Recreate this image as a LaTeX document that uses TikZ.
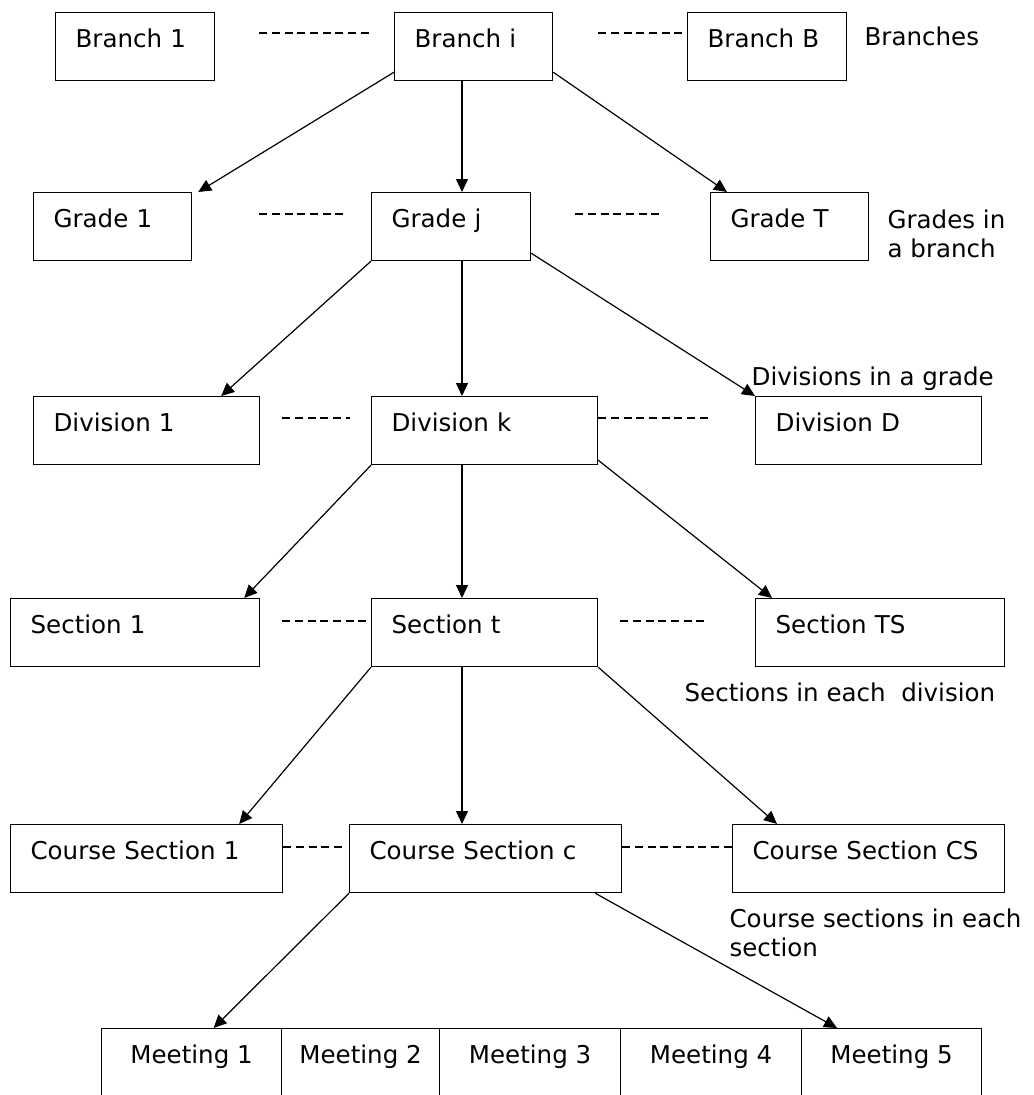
\documentclass[tikz,border=0pt]{standalone}
\usepackage{fontspec}
\setmainfont{DejaVu Sans}
\usetikzlibrary{arrows.meta}
\tikzset{>={Triangle[length=9.75pt,width=9pt]}}

\begin{document}
\begin{tikzpicture}[x=0.75pt, y=-0.75pt, line width=0.9pt, font=\fontsize{18.4}{21.75}\selectfont,
		box/.style={draw, rectangle, anchor=north west, align=left, inner xsep=15pt, inner ysep=0pt, text width=#1, text height=26.25pt, text depth=24.75pt},
		meet/.style={draw, rectangle, anchor=north west, align=center, inner sep=0pt, minimum width=#1, text height=26.25pt, text depth=24pt},
		gap/.style={dash pattern=on 6pt off 3.5pt},
		note/.style={anchor=base west, align=left, inner sep=0pt}]
		\useasboundingbox (0,0) rectangle (1034,1095);
		
		% branches
		\node [box=89.25pt] (b1) at (55,12) {Branch 1};
		\node [box=88.5pt] (bi) at (394,12) {Branch i};
		\node [box=89.25pt] (bB) at (687,12) {Branch B};
		% grades
		\node [box=88.5pt] (g1) at (33,192) {Grade 1};
		\node [box=89.25pt] (gj) at (371,192) {Grade j};
		\node [box=88.5pt] (gT) at (710,192) {Grade T};
		% divisions
		\node [box=139.5pt] (d1) at (33,396) {Division 1};
		\node [box=139.5pt] (dk) at (371,396) {Division k};
		\node [box=139.5pt] (dD) at (755,396) {Division D};
		% sections
		\node [box=156.75pt] (s1) at (10,598) {Section 1};
		\node [box=139.5pt] (st) at (371,598) {Section t};
		\node [box=156.75pt] (sTS) at (755,598) {Section TS};
		% course sections
		\node [box=174pt] (c1) at (10,824) {Course Section 1};
		\node [box=174pt] (cc) at (349,824) {Course Section c};
		\node [box=174pt] (cCS) at (732,824) {Course Section CS};
		% meetings
		\node [meet=135pt] (m1) at (101,1028) {Meeting 1};
		\node [meet=118.5pt] (m2) at (281,1028) {Meeting 2};
		\node [meet=135.75pt] (m3) at (439,1028) {Meeting 3};
		\node [meet=135.75pt] (m4) at (620,1028) {Meeting 4};
		\node [meet=135pt] (m5) at (801,1028) {Meeting 5};
		
		% notes
		\node [note] (nB) at (864,46) {Branches};
		\node [note] (nG) at (887,257) {Grades in\\a branch};
		\node [note] (nD) at (751,385) {Divisions in a grade};
		\node [note] (nS) at (684,701) {Sections in each\ \ division};
		\node [note] (nC) at (729,956) {Course sections in each\\section};
		
		% dashes between boxes
		\draw[gap] ([shift={(44,21)}]b1.north east) -- ([shift={(-24,21)}]bi.north west);
		\draw[gap] ([shift={(45,21)}]bi.north east) -- ([shift={(-3,21)}]bB.north west);
		\draw[gap] ([shift={(67,22)}]g1.north east) -- ([shift={(-28,22)}]gj.north west);
		\draw[gap] ([shift={(44,22)}]gj.north east) -- ([shift={(-49,22)}]gT.north west);
		\draw[gap] ([shift={(22,22)}]d1.north east) -- ([shift={(-21,22)}]dk.north west);
		\draw[gap] ([shift={(0,22)}]dk.north east) -- ([shift={(-46,22)}]dD.north west);
		\draw[gap] ([shift={(22,23)}]s1.north east) -- ([shift={(-4,23)}]st.north west);
		\draw[gap] ([shift={(22,23)}]st.north east) -- ([shift={(-49,23)}]sTS.north west);
		\draw[gap] ([shift={(0,23)}]c1.north east) -- ([shift={(-4,23)}]cc.north west);
		\draw[gap] ([shift={(0,23)}]cc.north east) -- ([shift={(0,23)}]cCS.north west);
		
		\draw[->] ([shift={(0,-9)}]bi.south west) -- ([shift={(6,0)}]g1.north east);
		\draw[->] ([shift={(68,0)}]bi.south west) -- ([shift={(91,0)}]gj.north west);
		\draw[->] ([shift={(0,-9)}]bi.south east) -- ([shift={(17,0)}]gT.north west);
		\draw[->] (gj.south west) -- ([shift={(-39,0)}]d1.north east);
		\draw[->] ([shift={(91,0)}]gj.south west) -- ([shift={(91,0)}]dk.north west);
		\draw[->] ([shift={(0,-8)}]gj.south east) -- (dD.north west);
		\draw[->] (dk.south west) -- ([shift={(-16,0)}]s1.north east);
		\draw[->] ([shift={(91,0)}]dk.south west) -- ([shift={(91,0)}]st.north west);
		\draw[->] ([shift={(0,-5)}]dk.south east) -- ([shift={(17,0)}]sTS.north west);
		\draw[->] (st.south west) -- ([shift={(-44,0)}]c1.north east);
		\draw[->] ([shift={(91,0)}]st.south west) -- ([shift={(113,0)}]cc.north west);
		\draw[->] (st.south east) -- ([shift={(45,0)}]cCS.north west);
		\draw[->] (cc.south west) -- ([shift={(22,0)}]m1.north);
		\draw[->] ([shift={(-27,0)}]cc.south east) -- ([shift={(36,0)}]m5.north west);
\end{tikzpicture}
\end{document}
